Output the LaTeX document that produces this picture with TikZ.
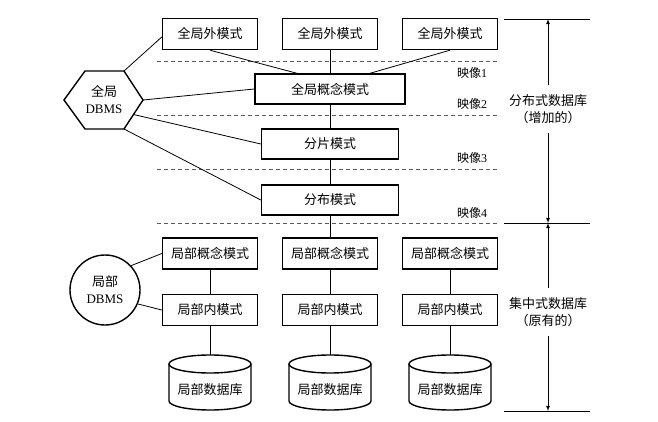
\documentclass[tikz,border=0pt]{standalone}
\usepackage{fontspec}
\setmainfont{Liberation Serif}
\newfontfamily\cjk{Noto Sans CJK SC}
\usetikzlibrary{shapes,arrows,positioning,calc}

\tikzset{
  schema/.style={draw, line width=1.4pt, minimum width=95pt, minimum height=31pt, inner sep=2pt, font=\fontsize{13}{16}\selectfont\cjk},
  link/.style={line width=0.8pt},
  level/.style={line width=0.8pt, gray!70!black, dash pattern=on 4pt off 3pt},
  maplabel/.style={font=\fontsize{12}{14}\selectfont},
  span/.style={align=center, inner sep=9pt, font=\fontsize{13}{17}\selectfont\cjk},
}

\begin{document}
\begin{tikzpicture}[x=1pt,y=1pt]
  \useasboundingbox (0,0) rectangle (658,421);
  % dashed separators
  \draw[level] (157,360) -- (499,360);
  \draw[level] (157,306) -- (499,306);
  \draw[level] (157,252) -- (499,252);
  \draw[level] (157,198) -- (499,198);
  \node[maplabel] (map1) at (472,348) {{\cjk 映像}1};
  \node[maplabel] (map2) at (472,317) {{\cjk 映像}2};
  \node[maplabel] (map3) at (472,263) {{\cjk 映像}3};
  \node[maplabel] (map4) at (472,208) {{\cjk 映像}4};

  % global schemas
  \node[schema] (ext1) at (210,387) {全局外模式};
  \node[schema] (ext2) at (330,387) {全局外模式};
  \node[schema] (ext3) at (450,387) {全局外模式};
  \node[schema, minimum width=150pt, minimum height=30pt] (gcs) at (330,332) {全局概念模式};
  \node[schema, minimum width=137pt, minimum height=30pt] (frag) at (330,277) {分片模式};
  \node[schema, minimum width=137pt, minimum height=30pt] (alloc) at (330,221) {分布模式};
  \draw[link] (ext1.south) -- ($(gcs.north)+(-33,0)$);
  \draw[link] (ext2) -- (gcs);
  \draw[link] (ext3.south) -- ($(gcs.north)+(40,0)$);
  \draw[link] (gcs) -- (frag);
  \draw[link] (frag) -- (alloc);

  % global DBMS
  \coordinate (hl) at (64,321);
  \coordinate (htl) at (85,350);
  \coordinate (htr) at (124,350);
  \coordinate (hr) at (143,321);
  \coordinate (hbr) at (124,292);
  \coordinate (hbl) at (85,292);
  \draw[line width=1.4pt] (hl) -- (htl) -- (htr) -- (hr) -- (hbr) -- (hbl) -- cycle;
  \node[align=center, font=\fontsize{13}{17}\selectfont] (gdbms) at (104,321) {{\cjk 全局}\\DBMS};
  \draw[link] (htr) -- ($(ext1.west)+(0,-3)$);
  \draw[link] (hr) -- (gcs.west);
  \draw[link] ($(hr)!0.5!(hbr)$) -- (frag.west);
  \draw[link] (hbr) -- (alloc.west);

  % local schemas and databases
  \foreach \x/\i in {210/1,330/2,450/3} {
    \node[schema] (lcs\i) at (\x,167.5) {局部概念模式};
    \node[schema] (lis\i) at (\x,111) {局部内模式};
    \coordinate (dbtop\i) at (\x,66);
    \draw[line width=1.4pt] (\x-41,57) -- (\x-41,20) arc (180:360:41pt and 9pt) -- (\x+41,57);
    \draw[line width=1.4pt] (\x,57) ellipse (41pt and 9pt);
    \node[font=\fontsize{13}{16}\selectfont\cjk] (ldb\i) at (\x,31) {局部数据库};
    \draw[link] (lcs\i) -- (lis\i);
    \draw[link] (lis\i) -- (dbtop\i);
  }
  \draw[link] (alloc) -- (lcs2);

  % local DBMS
  \node[draw, circle, line width=1.4pt, minimum size=70pt, inner sep=0pt, align=center, font=\fontsize{13}{17}\selectfont] (ldbms) at (105,131) {{\cjk 局部}\\DBMS};
  \draw[link] (ldbms.43) -- (lcs1.west);
  \draw[link] (ldbms.-23) -- (lis1.west);

  % ranges on the right
  \draw[link] (504,402) -- (590,402);
  \draw[link] (504,198) -- (590,198);
  \draw[link] (504,10) -- (590,10);
  \node[span] (dist) at (548,312) {分布式数据库\\（增加的）};
  \node[span] (cent) at (548,109) {集中式数据库\\（原有的）};
  \draw[link,-latex] (dist.north) -- (548,402);
  \draw[link,-latex] (dist.south) -- (548,198);
  \draw[link,-latex] (cent.north) -- (548,198);
  \draw[link,-latex] (cent.south) -- (548,10);
\end{tikzpicture}
\end{document}
